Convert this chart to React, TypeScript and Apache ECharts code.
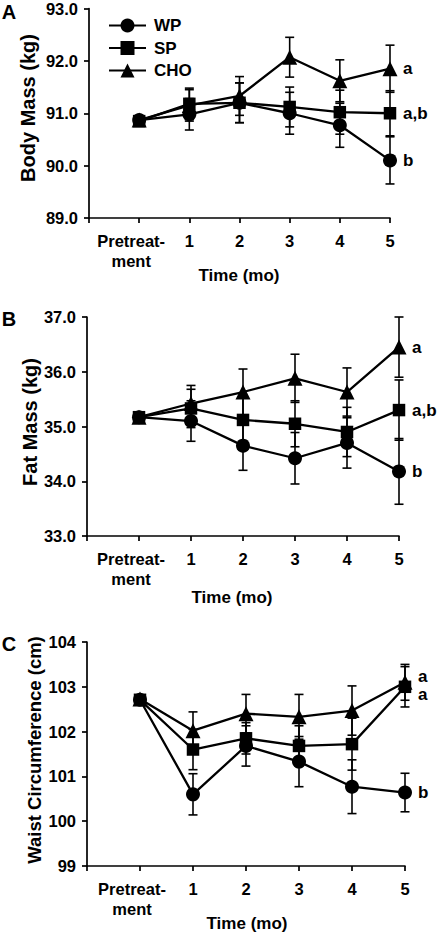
import React, { useEffect, useRef } from 'react';
import * as echarts from 'echarts';

const categories = ['Pretreat-\nment', '1', '2', '3', '4', '5'];
const groups = ['WP', 'SP', 'CHO'];

// Panel A: Body Mass (kg)
const bodyWP = [90.87, 90.98, 91.2, 91.0, 90.77, 90.1];
const bodySP = [90.85, 91.18, 91.2, 91.12, 91.02, 91.0];
const bodyCHO = [90.87, 91.15, 91.33, 92.07, 91.62, 91.85];
const bodyWPErr = [0.06, 0.3, 0.38, 0.4, 0.42, 0.45];
const bodySPErr = [0.06, 0.3, 0.38, 0.38, 0.42, 0.43];
const bodyCHOErr = [0.06, 0.3, 0.37, 0.38, 0.4, 0.45];
const bodySig = ['b', 'a,b', 'a'];
const bodyTicks = [89, 93];

// Panel B: Fat Mass (kg)
const fatWP = [35.17, 35.1, 34.65, 34.42, 34.7, 34.18];
const fatSP = [35.17, 35.33, 35.12, 35.05, 34.9, 35.3];
const fatCHO = [35.17, 35.42, 35.63, 35.88, 35.63, 36.45];
const fatWPErr = [0.05, 0.37, 0.45, 0.47, 0.46, 0.6];
const fatSPErr = [0.05, 0.35, 0.4, 0.42, 0.45, 0.55];
const fatCHOErr = [0.05, 0.33, 0.42, 0.44, 0.44, 0.55];
const fatSig = ['b', 'a,b', 'a'];
const fatTicks = [33, 37];

// Panel C: Waist Circumference (cm)
const waistWP = [102.71, 100.6, 101.68, 101.33, 100.77, 100.64];
const waistSP = [102.71, 101.6, 101.85, 101.68, 101.72, 103.0];
const waistCHO = [102.73, 102.02, 102.4, 102.33, 102.47, 103.1];
const waistWPErr = [0.08, 0.46, 0.45, 0.56, 0.6, 0.43];
const waistSPErr = [0.08, 0.45, 0.35, 0.45, 0.58, 0.45];
const waistCHOErr = [0.08, 0.42, 0.43, 0.5, 0.55, 0.4];
const waistSig = ['b', 'a', 'a'];
const waistTicks = [99, 104];

const FONT = '"Liberation Sans", Arial, sans-serif';

const panels = [
  {
    letter: 'A', yTitle: 'Body Mass (kg)', yTitleSize: 20, range: bodyTicks, decimals: 1,
    means: [bodyWP, bodySP, bodyCHO], errs: [bodyWPErr, bodySPErr, bodyCHOErr], sig: bodySig,
    grid: { left: 89, top: 7, width: 301, height: 211 },
    letterPos: [9, 12], yTitlePos: [28, 108], xTitlePos: [239, 275],
    sigOffset: [[0, 0], [0, 0], [0, 0]],
  },
  {
    letter: 'B', yTitle: 'Fat Mass (kg)', yTitleSize: 20, range: fatTicks, decimals: 1,
    means: [fatWP, fatSP, fatCHO], errs: [fatWPErr, fatSPErr, fatCHOErr], sig: fatSig,
    grid: { left: 87, top: 317, width: 312, height: 219 },
    letterPos: [9, 319], yTitlePos: [30, 422], xTitlePos: [232, 597],
    sigOffset: [[0, 0], [0, 0], [0, 0]],
  },
  {
    letter: 'C', yTitle: 'Waist Circumference (cm)', yTitleSize: 18.5, range: waistTicks, decimals: 0,
    means: [waistWP, waistSP, waistCHO], errs: [waistWPErr, waistSPErr, waistCHOErr], sig: waistSig,
    grid: { left: 87, top: 642, width: 318, height: 224 },
    letterPos: [9, 644], yTitlePos: [34, 750], xTitlePos: [247, 923],
    sigOffset: [[0, 0], [0, 8], [0, -6]],
  },
];

const symbols = ['circle', 'rect', 'triangle'];
const symbolSizes = [14, 12.5, 15];

export default function App() {
  const ref = useRef<HTMLDivElement>(null);
  useEffect(() => {
    if (!ref.current) return;
    const chart = echarts.init(ref.current, undefined, { renderer: 'svg' });
    const axisColor = '#000';
    const grids: any[] = [];
    const xAxes: any[] = [];
    const yAxes: any[] = [];
    const series: any[] = [];
    const graphics: any[] = [];

    panels.forEach((p, pi) => {
      grids.push({ ...p.grid, containLabel: false });
      xAxes.push({
        type: 'value', gridIndex: pi, min: -1, max: categories.length - 1, interval: 1,
        axisLine: { show: true, onZero: false, lineStyle: { color: axisColor, width: 1.7 } },
        axisTick: { show: true, length: 5, lineStyle: { color: axisColor, width: 1.7 } },
        splitLine: { show: false },
        axisLabel: {
          color: '#000', fontSize: 16.5, fontWeight: 'bold', fontFamily: FONT, margin: 13, lineHeight: 20,
          formatter: (v: number) => {
            const i = Math.round(v);
            if (i < 0 || i >= categories.length) return '';
            const c = categories[i];
            if (c.includes('\n')) return c.split('\n').map((s) => `{p|${s}}`).join('\n');
            return c;
          },
          rich: {
            p: { fontSize: 16.5, fontWeight: 'bold', fontFamily: FONT, color: '#000', lineHeight: 20, padding: [0, 16, 0, 0] },
          },
        },
      });
      yAxes.push({
        type: 'value', gridIndex: pi, min: p.range[0], max: p.range[1], interval: 1,
        axisLine: { show: true, onZero: false, lineStyle: { color: axisColor, width: 1.7 } },
        axisTick: { show: true, length: 5, lineStyle: { color: axisColor, width: 1.7 } },
        splitLine: { show: false },
        axisLabel: {
          color: '#000', fontSize: 16.5, fontWeight: 'bold', fontFamily: FONT, margin: 11,
          formatter: (v: number) => v.toFixed(p.decimals),
        },
      });

      groups.forEach((g, gi) => {
        const m = p.means[gi];
        const e = p.errs[gi];
        series.push({
          type: 'custom', name: g + ' SEM', xAxisIndex: pi, yAxisIndex: pi, z: 1,
          data: m.map((v, i) => [i, v - e[i], v + e[i]]),
          encode: { x: 0, y: [1, 2] },
          renderItem: (_params: any, api: any) => {
            const x = api.value(0);
            const top = api.coord([x, api.value(2)]);
            const bot = api.coord([x, api.value(1)]);
            const w = 4.5;
            const st = { stroke: '#000', lineWidth: 1.6 };
            return {
              type: 'group',
              children: [
                { type: 'line', shape: { x1: top[0], y1: top[1], x2: bot[0], y2: bot[1] }, style: st },
                { type: 'line', shape: { x1: top[0] - w, y1: top[1], x2: top[0] + w, y2: top[1] }, style: st },
                { type: 'line', shape: { x1: bot[0] - w, y1: bot[1], x2: bot[0] + w, y2: bot[1] }, style: st },
              ],
            };
          },
        });
        series.push({
          type: 'line', name: g, xAxisIndex: pi, yAxisIndex: pi, z: 3,
          data: m.map((v, i) => [i, v]),
          symbol: symbols[gi], symbolSize: symbolSizes[gi], showSymbol: true,
          lineStyle: { color: '#000', width: 2.3 },
          itemStyle: { color: '#000' },
          endLabel: {
            show: true, formatter: p.sig[gi], distance: 13, offset: p.sigOffset[gi],
            color: '#000', fontSize: 17, fontWeight: 'bold', fontFamily: FONT,
          },
        });
      });

      graphics.push({
        type: 'text', x: p.letterPos[0], y: p.letterPos[1],
        style: { text: p.letter, fill: '#000', fontSize: 20, fontWeight: 'bold', fontFamily: FONT, align: 'center', verticalAlign: 'middle' },
      });
      graphics.push({
        type: 'text', x: p.yTitlePos[0], y: p.yTitlePos[1], rotation: Math.PI / 2,
        style: { text: p.yTitle, fill: '#000', fontSize: p.yTitleSize, fontWeight: 'bold', fontFamily: FONT, align: 'center', verticalAlign: 'middle' },
      });
      graphics.push({
        type: 'text', x: p.xTitlePos[0], y: p.xTitlePos[1],
        style: { text: 'Time (mo)', fill: '#000', fontSize: 17, fontWeight: 'bold', fontFamily: FONT, align: 'center', verticalAlign: 'middle' },
      });
    });

    chart.setOption({
      animation: false,
      backgroundColor: '#fff',
      grid: grids,
      xAxis: xAxes,
      yAxis: yAxes,
      series,
      graphic: graphics,
      legend: {
        data: groups, orient: 'vertical', left: 103, top: 12, itemWidth: 37, itemHeight: 17.5, itemGap: 5.5,
        textStyle: { color: '#000', fontSize: 17, fontWeight: 'bold', fontFamily: FONT, padding: [0, 0, 0, 3] },
      },
    });
    return () => chart.dispose();
  }, []);
  return <div ref={ref} style={{ position: 'absolute', left: 0, top: 0, width: 442, height: 935 }} />;
}
